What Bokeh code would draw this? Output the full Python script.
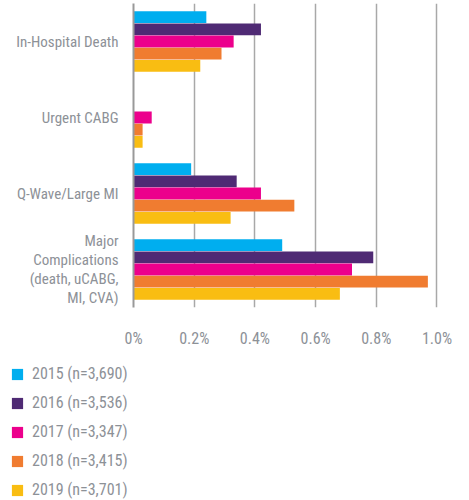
from bokeh.plotting import figure
from bokeh.models import ColumnDataSource, FactorRange, FixedTicker, Legend, LegendItem, Range1d
from bokeh.transform import dodge
from bokeh.layouts import column, row
from bokeh.embed import file_html
from bokeh.resources import INLINE

# ---- data ----
categories = [
    "In-Hospital Death",
    "Urgent CABG",
    "Q-Wave/Large MI",
    "Major\nComplications\n(death, uCABG,\nMI, CVA)",
]
years = ["2015", "2016", "2017", "2018", "2019"]
legend_labels = [
    "2015 (n=3,690)",
    "2016 (n=3,536)",
    "2017 (n=3,347)",
    "2018 (n=3,415)",
    "2019 (n=3,701)",
]
v2015 = [0.24, 0.00, 0.19, 0.49]
v2016 = [0.42, 0.00, 0.34, 0.79]
v2017 = [0.33, 0.06, 0.42, 0.72]
v2018 = [0.29, 0.03, 0.53, 0.97]
v2019 = [0.22, 0.03, 0.32, 0.68]
tick_values = [0, 0.2, 0.4, 0.6, 0.8, 1.0]
tick_labels = ["0%", "0.2%", "0.4%", "0.6%", "0.8%", "1.0%"]

colors = ["#00aeef", "#4f2a74", "#ec008c", "#f07c30", "#f9bd12"]
offsets = [0.32, 0.16, 0.0, -0.16, -0.32]
FONT = "'Roboto Condensed', 'Liberation Sans Narrow', 'DejaVu Sans Condensed', sans-serif"
TXT = "#8d9197"

src = ColumnDataSource(dict(cat=categories, y2015=v2015, y2016=v2016,
                            y2017=v2017, y2018=v2018, y2019=v2019))

# ---- chart ----
p = figure(width=469, height=350, toolbar_location=None, output_backend="svg",
           y_range=FactorRange(*reversed(categories), range_padding=0),
           x_range=Range1d(0, 1.005),
           min_border_left=133, min_border_right=31, min_border_top=3, min_border_bottom=35)
p.outline_line_color = None

for yr, c, off in zip(years, colors, offsets):
    p.hbar(y=dodge("cat", off, range=p.y_range), right="y" + yr, height=0.155,
           source=src, fill_color=c, line_color=None)

p.ygrid.visible = False
p.xgrid.grid_line_color = "#a8a8a8"
p.xgrid.grid_line_width = 1.5
p.xgrid.ticker = FixedTicker(ticks=tick_values)

p.xaxis.ticker = FixedTicker(ticks=tick_values)
p.xaxis.major_label_overrides = dict(zip(tick_values, tick_labels))
p.xaxis.axis_line_color = None
p.xaxis.major_tick_line_color = None
p.xaxis.minor_tick_line_color = None
p.xaxis.major_label_standoff = 15
p.xaxis.major_label_text_font = FONT
p.xaxis.major_label_text_font_size = "16px"
p.xaxis.major_label_text_color = TXT

p.yaxis.axis_line_color = "#999999"
p.yaxis.axis_line_width = 2
p.yaxis.major_tick_line_color = None
p.yaxis.minor_tick_line_color = None
p.yaxis.major_label_standoff = 9
p.yaxis.major_label_text_font = FONT
p.yaxis.major_label_text_font_size = "15px"
p.yaxis.major_label_text_color = TXT
p.yaxis.major_label_text_line_height = 1.05

# ---- legend (own figure) ----
p2 = figure(width=469, height=150, toolbar_location=None, output_backend="svg",
            x_axis_location=None, y_axis_location=None, min_border=0,
            x_range=Range1d(0, 1), y_range=Range1d(0, 1))
p2.outline_line_color = None
p2.grid.visible = False
items = []
for lab, c in zip(legend_labels, colors):
    r = p2.hbar(y=[0.5], right=[0], height=0.1, fill_color=c, line_color=None)
    items.append(LegendItem(label=lab, renderers=[r]))
leg = Legend(items=items, location=(10, 1), margin=0, padding=2,
             border_line_color=None, background_fill_alpha=0,
             glyph_width=14, glyph_height=14, label_standoff=8, spacing=10,
             label_text_font=FONT, label_text_font_size="16px", label_text_color=TXT)
p2.add_layout(leg)

open("out.html", "w").write(file_html(column(p, row(p2), spacing=0), INLINE))
